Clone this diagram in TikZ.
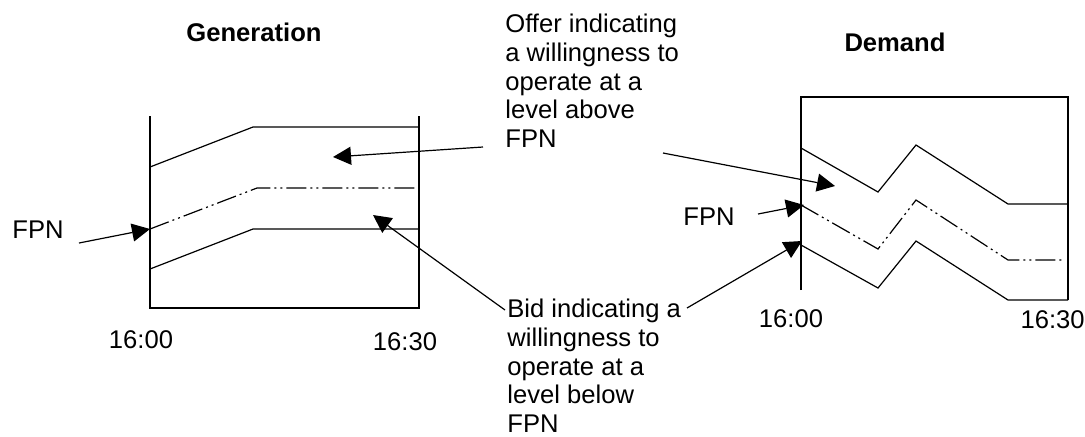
\documentclass[tikz,border=0pt]{standalone}
\usepackage{fontspec}
\setmainfont{Liberation Sans}
\usetikzlibrary{arrows.meta}

\begin{document}
\begin{tikzpicture}[x=0.5pt, y=-0.5pt, >={Triangle[length=9pt,width=9pt]},
    lbl/.style={font=\fontsize{12.8}{14.3}\selectfont, inner sep=0pt},
    ttl/.style={font=\fontsize{12.8}{14.3}\selectfont\bfseries, inner sep=0pt},
    frame/.style={line width=0.8pt},
    level/.style={line width=0.6pt},
    fpnline/.style={line width=0.6pt, dash pattern=on 10pt off 2pt on 1pt off 2pt on 1pt off 2pt},
    pointer/.style={->, line width=0.6pt}]
    \useasboundingbox (0,0) rectangle (1085,436);

    % Titles
    \node[ttl, anchor=base] (gtitle) at (254,41) {Generation};
    \node[ttl, anchor=base] (dtitle) at (895,51) {Demand};

    % Generation frame
    \coordinate (GA) at (150,116);
    \coordinate (GB) at (150,308);
    \coordinate (GC) at (419,308);
    \coordinate (GD) at (419,116);
    \draw[frame] (GA) -- (GB) -- (GC) -- (GD);

    % Generation levels
    \coordinate (GO) at (150,167);
    \coordinate (GF) at (150,229);
    \coordinate (GL) at (150,269);
    \draw[level] (GO) -- (253,127) -- (419,127);
    \draw[fpnline] (GF) -- (257,188) -- (419,188);
    \draw[level] (GL) -- (253,229) -- (419,229);

    % Demand frame
    \coordinate (DA) at (801,290);
    \coordinate (DB) at (801,97);
    \coordinate (DC) at (1068,97);
    \coordinate (DD) at (1068,300);
    \draw[frame] (DA) -- (DB) -- (DC) -- (DD);

    % Demand levels
    \coordinate (DO) at (801,148);
    \coordinate (DF) at (801,205);
    \coordinate (DL) at (801,245);
    \draw[level] (DO) -- (878,192) -- (916,145) -- (1008,204) -- (1068,204);
    \draw[fpnline] (DF) -- (878,249) -- (916,200) -- (1008,260) -- (1064,260);
    \draw[level] (DL) -- (878,288) -- (916,241) -- (1008,300) -- (DD);

    % Nodes
    \node[lbl, anchor=base west] (gfpn) at (12,238) {FPN};
    \node[lbl, anchor=base west] (dfpn) at (683,225) {FPN};
    \node[lbl, anchor=base] (g1600) at (141,348) {16:00};
    \node[lbl, anchor=base] (g1630) at (405,350) {16:30};
    \node[lbl, anchor=base] (d1600) at (791,327) {16:00};
    \node[lbl, anchor=base east] (d1630) at (1085,328) {16:30};
    \node[lbl, anchor=north west, align=left] (offer) at (505,14)
        {Offer indicating\\a willingness to\\operate at a\\level above\\FPN};
    \node[lbl, anchor=north west, align=left] (bid) at (507,299)
        {Bid indicating a\\willingness to\\operate at a\\level below\\FPN};

    % Pointers
    \coordinate (gfpnS) at (79,243);
    \coordinate (gofS) at (483,147);
    \coordinate (gofT) at (333,157);
    \coordinate (gbiS) at (505,310);
    \coordinate (gbiT) at (373,215);
    \coordinate (dofS) at (663,153);
    \coordinate (dofT) at (835,186);
    \coordinate (dfpnS) at (758,214);
    \coordinate (dfpnT) at (804,205);
    \coordinate (dbiS) at (687,308);
    \coordinate (dbiT) at (802,241);
    \draw[pointer] (gfpnS) -- (GF);
    \draw[pointer] (gofS) -- (gofT);
    \draw[pointer] (gbiS) -- (gbiT);
    \draw[pointer] (dofS) -- (dofT);
    \draw[pointer] (dfpnS) -- (dfpnT);
    \draw[pointer] (dbiS) -- (dbiT);
\end{tikzpicture}
\end{document}
